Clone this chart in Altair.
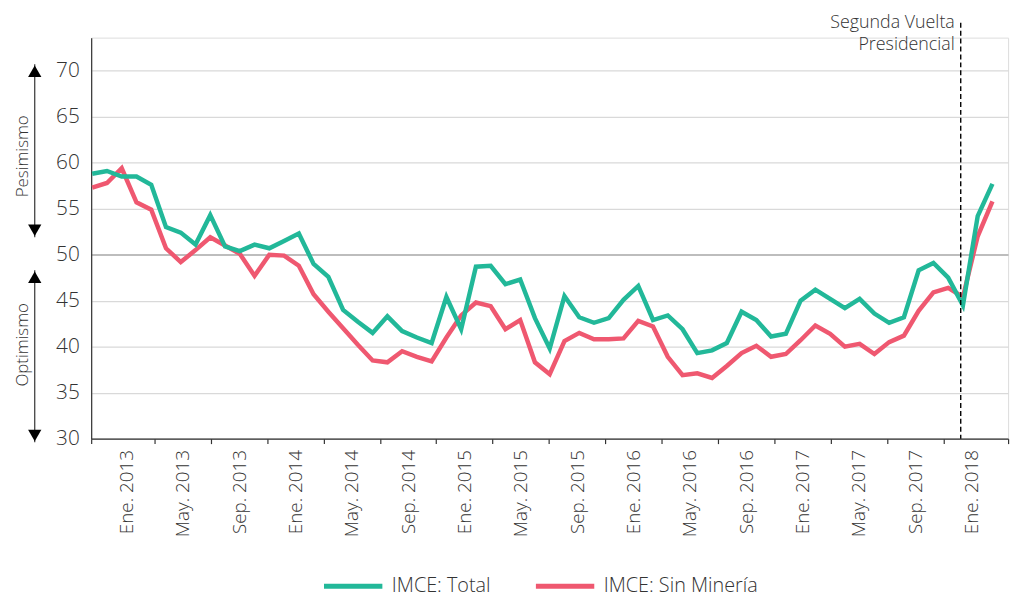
import json
import altair as alt
import pandas as pd

# ---------------- data ----------------
months = pd.date_range("2013-01-01", periods=62, freq="MS")

imce_total = [58.8, 59.1, 58.5, 58.5, 57.6, 53.0, 52.4, 51.1, 54.3, 50.9,
              50.4, 51.1, 50.7, 51.5, 52.3, 49.0, 47.6, 44.0, 42.7, 41.5,
              43.3, 41.7, 41.0, 40.4, 45.4, 41.9, 48.7, 48.8, 46.8, 47.3,
              43.1, 39.8, 45.5, 43.2, 42.6, 43.1, 45.1, 46.6, 42.9, 43.4,
              41.9, 39.3, 39.6, 40.4, 43.8, 42.9, 41.1, 41.4, 45.0, 46.2,
              45.2, 44.2, 45.2, 43.6, 42.6, 43.2, 48.3, 49.1, 47.5, 44.5,
              54.2, 57.7]

imce_sin_mineria = [57.3, 57.8, 59.4, 55.7, 54.9, 50.7, 49.2, 50.5, 51.9, 51.0,
                    50.1, 47.7, 50.0, 49.9, 48.8, 45.7, 43.8, 42.0, 40.2, 38.5,
                    38.3, 39.5, 38.9, 38.4, 41.0, 43.4, 44.8, 44.4, 41.9, 42.9,
                    38.3, 37.0, 40.6, 41.5, 40.8, 40.8, 40.9, 42.8, 42.2, 38.9,
                    36.9, 37.1, 36.6, 37.9, 39.3, 40.1, 38.9, 39.2, 40.7, 42.3,
                    41.4, 40.0, 40.3, 39.2, 40.5, 41.2, 43.9, 45.9, 46.4, 45.4,
                    52.0, 55.8]

series_names = ["IMCE: Total", "IMCE: Sin Minería"]
series_colors = ["#22b899", "#ef5870"]

axis_labels = ["Ene. 2013", "May. 2013", "Sep. 2013", "Ene. 2014", "May. 2014",
               "Sep. 2014", "Ene. 2015", "May. 2015", "Sep. 2015", "Ene. 2016",
               "May. 2016", "Sep. 2016", "Ene. 2017", "May. 2017", "Sep. 2017",
               "Ene. 2018"]

y_ticks = [30, 35, 40, 45, 50, 55, 60, 65, 70]

event_label = ["Segunda Vuelta", "Presidencial"]
event_position = [58.85]  # mid-December 2017, in month index units

zone_labels = ["Pesimismo", "Optimismo"]
zone_top = [70.7, 48.3]
zone_bottom = [51.9, 29.6]
zone_mid = [60.7, 40.2]

# ---------------- styling ----------------
FONT = "Open Sans"
TEXT = "#333333"
W, H = 926, 405

n = len(months)
df = pd.DataFrame({
    "mes": [m.strftime("%Y-%m") for m in months] * 2,
    "i": list(range(n)) * 2,
    "serie": [series_names[1]] * n + [series_names[0]] * n,
    "valor": imce_sin_mineria + imce_total,
})

y_scale = alt.Scale(domain=[30, 73.6], nice=False, zero=False)
line_x = alt.Scale(domain=[-0.07, 62.06], nice=False, zero=False)

y_axis = alt.Axis(
    values=y_ticks, title=None, grid=True, ticks=False,
    gridColor={"condition": {"test": "datum.value == 50", "value": "#bdbdbd"}, "value": "#d9d9d9"},
    gridWidth={"condition": {"test": "datum.value == 50", "value": 2}, "value": 1.3},
    labelFontSize=21, labelFont=FONT, labelFontWeight=300, labelColor=TEXT, labelPadding=12,
    domainColor="#333333", domainWidth=1.2,
)

lines = alt.Chart(df).mark_line(strokeWidth=4.5).encode(
    x=alt.X("i:Q", scale=line_x, axis=None),
    y=alt.Y("valor:Q", scale=y_scale, axis=y_axis),
    color=alt.Color(
        "serie:N",
        scale=alt.Scale(domain=series_names, range=series_colors),
        legend=alt.Legend(
            title=None, orient="none", legendX=231, legendY=544, padding=0,
            direction="horizontal", symbolType="M-5,0H5", symbolStrokeWidth=5,
            symbolSize=139, symbolOffset=23.6, labelOffset=29,
            labelFontSize=20, labelFont=FONT, labelFontWeight=300,
            labelColor=TEXT, columnPadding=35, labelLimit=400,
        ),
    ),
    detail="serie:N",
)

event_df = pd.DataFrame({"i": event_position})
rule = alt.Chart(event_df).mark_rule(strokeDash=[5, 3], color="black", strokeWidth=1.4).encode(
    x=alt.X("i:Q", scale=line_x, axis=None),
    y=alt.value(-15),
    y2=alt.value(H),
)
event_text = alt.Chart(event_df).mark_text(
    align="right", baseline="top", dx=-6, fontSize=18, lineHeight=23,
    color=TEXT, font=FONT, fontWeight=300,
).encode(
    x=alt.X("i:Q", scale=line_x, axis=None),
    y=alt.value(-24),
    text=alt.value(event_label),
)

zone_df = pd.DataFrame({"label": zone_labels, "top": zone_top,
                        "bottom": zone_bottom, "mid": zone_mid})
ARROW_X = -57
arrow_line = alt.Chart(zone_df).mark_rule(color="#333333", strokeWidth=1.2).encode(
    x=alt.value(ARROW_X),
    y=alt.Y("top:Q", scale=y_scale, axis=y_axis),
    y2="bottom:Q",
)
head_up = alt.Chart(zone_df).mark_point(
    shape="triangle-up", filled=True, color="black", opacity=1, size=180, yOffset=7,
).encode(x=alt.value(ARROW_X), y=alt.Y("top:Q", scale=y_scale, axis=y_axis))
head_down = alt.Chart(zone_df).mark_point(
    shape="triangle-down", filled=True, color="black", opacity=1, size=180, yOffset=-7,
).encode(x=alt.value(ARROW_X), y=alt.Y("bottom:Q", scale=y_scale, axis=y_axis))
zone_text = alt.Chart(zone_df).mark_text(
    angle=270, fontSize=17, color=TEXT, font=FONT, fontWeight=300,
).encode(
    x=alt.value(-69),
    y=alt.Y("mid:Q", scale=y_scale, axis=y_axis),
    text="label:N",
)

main = alt.layer(lines, rule, event_text, arrow_line, head_up, head_down, zone_text)

# separate category axis (labels centred between 4-month tick marks)
label_u = [2.5 + 4 * k for k in range(len(axis_labels))]
tick_u = [0.0] + [4.5 + 4 * k for k in range(len(axis_labels) - 1)] + [65.1]
axis_values = sorted(label_u + tick_u)
label_expr = ("(datum.value - 2.5) % 4 == 0 ? " + json.dumps(axis_labels, ensure_ascii=False)
              + "[(datum.value - 2.5) / 4] : ''")

axis_df = pd.DataFrame({"u": label_u, "lab": axis_labels})
axis_layer = alt.Chart(axis_df).mark_point(opacity=0).encode(
    x=alt.X(
        "u:Q",
        scale=alt.Scale(domain=[0, 65.1], nice=False, zero=False),
        axis=alt.Axis(
            orient="bottom", values=axis_values, labelExpr=label_expr,
            tickOpacity={"condition": {"test": "(datum.value - 2.5) % 4 != 0", "value": 1}, "value": 0},
            tickSize=5, tickColor="#333333", tickWidth=1.2,
            domainColor="#333333", domainWidth=1.2,
            labelAngle=-90, labelFontSize=19, labelFont=FONT, labelFontWeight=300,
            labelColor=TEXT, labelPadding=6, labelOverlap=False, labelFlush=False,
            title=None, grid=False,
        ),
    ),
)

chart = alt.layer(main, axis_layer).resolve_scale(x="independent").properties(
    width=W, height=H,
    padding={"left": 5, "top": 3, "right": 0, "bottom": 0},
).configure_view(stroke=None).configure(font=FONT)

chart.save("out.html", embed_options={"renderer": "svg", "actions": False})
